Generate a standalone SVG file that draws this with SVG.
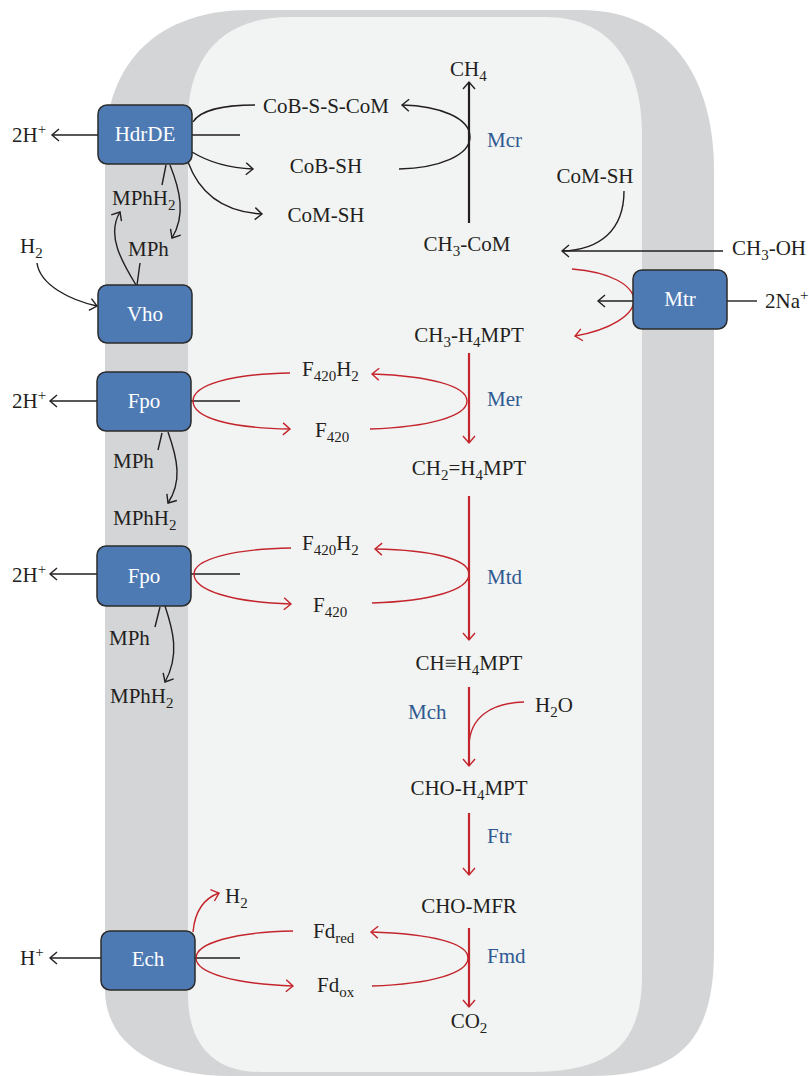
<svg xmlns="http://www.w3.org/2000/svg" width="809" height="1076" viewBox="0 0 809 1076">
<defs>
<style>
.t{font-family:"Liberation Serif",serif;font-size:21px;fill:#231f20}
.e{fill:#2f5a91}
.n{fill:#ffffff}
.s{font-size:15px}
.box{fill:#4e7ab4;stroke:#2b2b2b;stroke-width:1.5}
.k{fill:none;stroke:#231f20;stroke-width:1.4}
.kt{fill:none;stroke:#231f20;stroke-width:2.2}
.r{fill:none;stroke:#c4252c;stroke-width:1.4}
.rt{fill:none;stroke:#c4252c;stroke-width:2.2}
</style>
<marker id="ab" viewBox="-9 -7 11 14" markerWidth="11" markerHeight="14" refX="0" refY="0" orient="auto" markerUnits="userSpaceOnUse"><path d="M-7,-6 L0,0 L-7,6" fill="none" stroke="#231f20" stroke-width="1.4"/></marker>
<marker id="ar" viewBox="-9 -7 11 14" markerWidth="11" markerHeight="14" refX="0" refY="0" orient="auto" markerUnits="userSpaceOnUse"><path d="M-7,-6 L0,0 L-7,6" fill="none" stroke="#c4252c" stroke-width="1.4"/></marker>
</defs>
<rect width="809" height="1076" fill="#ffffff"/>
<g id="membrane">
<path d="M 250 10 L 580 10 C 680 10, 714 90, 714 170 L 714 950 C 714 1040, 680 1076, 590 1076 L 230 1076 C 150 1076, 105 1040, 105 990 L 105 150 C 105 60, 160 10, 250 10 Z" fill="#d4d5d7"/>
<path d="M 290 17 L 545 17 C 615 17, 642 70, 642 135 L 642 975 C 642 1045, 610 1072, 530 1072 L 260 1072 C 210 1072, 188 1040, 188 995 L 188 120 C 188 60, 220 17, 290 17 Z" fill="#f2f3f3"/>
</g>
<g id="connectors">
<path class="k" d="M 98 135 L 52 135" marker-end="url(#ab)"/>
<path class="k" d="M 255 105 C 225 105, 200 110, 193 122"/>
<path class="k" d="M 192 135 L 240 135"/>
<path class="k" d="M 192 152 C 210 163, 230 168, 253 169" marker-end="url(#ab)"/>
<path class="k" d="M 188 162 C 200 195, 225 212, 262 214" marker-end="url(#ab)"/>
<path class="k" d="M 162 185 L 166 165"/>
<path class="k" d="M 170 165 C 180 190, 186 215, 172 238" marker-end="url(#ab)"/>
<path class="k" d="M 136 285 C 122 262, 106 235, 120 212" marker-end="url(#ab)"/>
<path class="k" d="M 137 285 L 140 263"/>
<path class="k" d="M 37 263 C 40 285, 70 300, 97 306" marker-end="url(#ab)"/>
<path class="kt" d="M 469 223 L 469 82" marker-end="url(#ab)"/>
<path class="k" d="M 399 169 C 440 168, 470 155, 470 137 C 470 118, 440 106, 402 105" marker-end="url(#ab)"/>
<path class="k" d="M 624 191 C 624 230, 600 250, 562 251"/>
<path class="k" d="M 723 251 L 562 251" marker-end="url(#ab)"/>
<path class="k" d="M 633 301 L 598 301" marker-end="url(#ab)"/>
<path class="k" d="M 727 301 L 757 301"/>
<path class="k" d="M 97 401 L 50 401" marker-end="url(#ab)"/>
<path class="k" d="M 191 401 L 240 401"/>
<path class="k" d="M 158 450 L 162 433"/>
<path class="k" d="M 168 432 C 178 460, 182 482, 168 503" marker-end="url(#ab)"/>
<path class="k" d="M 97 574 L 50 574" marker-end="url(#ab)"/>
<path class="k" d="M 191 574 L 240 574"/>
<path class="k" d="M 155 627 L 160 607"/>
<path class="k" d="M 165 606 C 173 630, 180 655, 165 682" marker-end="url(#ab)"/>
<path class="k" d="M 101 958 L 50 958" marker-end="url(#ab)"/>
<path class="k" d="M 195 958 L 240 958"/>
<path class="r" d="M 572 269 C 610 272, 633 285, 634 300 C 634 315, 610 330, 575 336" marker-end="url(#ar)"/>
<path class="rt" d="M 469 353 L 469 443" marker-end="url(#ar)"/>
<path class="r" d="M 290 373 C 230 374, 193 385, 193 401 C 193 418, 230 428, 290 429" marker-end="url(#ar)"/>
<path class="r" d="M 370 429 C 430 427, 467 416, 467 401 C 467 386, 430 376, 372 374" marker-end="url(#ar)"/>
<path class="rt" d="M 469 496 L 469 640" marker-end="url(#ar)"/>
<path class="r" d="M 291 548 C 230 549, 194 560, 194 574 C 194 590, 230 602, 291 604" marker-end="url(#ar)"/>
<path class="r" d="M 372 603 C 432 601, 469 590, 469 574 C 469 559, 432 550, 375 549" marker-end="url(#ar)"/>
<path class="rt" d="M 469 687 L 469 766" marker-end="url(#ar)"/>
<path class="r" d="M 524 702 C 490 703, 470 718, 469 745"/>
<path class="rt" d="M 469 813 L 469 875" marker-end="url(#ar)"/>
<path class="rt" d="M 469 928 L 469 1007" marker-end="url(#ar)"/>
<path class="r" d="M 293 931 C 235 932, 196 943, 196 958 C 196 973, 235 984, 293 986" marker-end="url(#ar)"/>
<path class="r" d="M 372 986 C 432 984, 468 973, 468 958 C 468 943, 432 934, 371 932" marker-end="url(#ar)"/>
<path class="r" d="M 193 932 C 195 910, 205 898, 219 893" marker-end="url(#ar)"/>
</g>
<g id="HdrDE"><rect class="box" x="98" y="105" width="94" height="59" rx="9"/><text class="t n" x="145" y="141" text-anchor="middle">HdrDE</text></g>
<g id="Vho"><rect class="box" x="98" y="285" width="94" height="58" rx="9"/><text class="t n" x="145" y="321" text-anchor="middle">Vho</text></g>
<g id="Fpo1"><rect class="box" x="97" y="372" width="94" height="59" rx="9"/><text class="t n" x="144" y="408" text-anchor="middle">Fpo</text></g>
<g id="Fpo2"><rect class="box" x="97" y="546" width="94" height="60" rx="9"/><text class="t n" x="144" y="583" text-anchor="middle">Fpo</text></g>
<g id="Ech"><rect class="box" x="101" y="931" width="94" height="59" rx="9"/><text class="t n" x="148" y="966" text-anchor="middle">Ech</text></g>
<g id="Mtr"><rect class="box" x="633" y="270" width="94" height="59" rx="9"/><text class="t n" x="680" y="306" text-anchor="middle">Mtr</text></g>
<g id="labels">
<text class="t" x="12" y="142">2H<tspan class="s" dy="-8">+</tspan></text>
<text class="t" x="326" y="113" text-anchor="middle">CoB-S-S-CoM</text>
<text class="t" x="326" y="173" text-anchor="middle">CoB-SH</text>
<text class="t" x="326" y="222" text-anchor="middle">CoM-SH</text>
<text class="t" x="450" y="76">CH<tspan class="s" dy="5">4</tspan></text>
<text class="t e" x="487" y="147">Mcr</text>
<text class="t" x="467" y="251" text-anchor="middle">CH<tspan class="s" dy="5">3</tspan><tspan dy="-5">-CoM</tspan></text>
<text class="t" x="595" y="183" text-anchor="middle">CoM-SH</text>
<text class="t" x="732" y="255">CH<tspan class="s" dy="5">3</tspan><tspan dy="-5">-OH</tspan></text>
<text class="t" x="765" y="308">2Na<tspan class="s" dy="-8">+</tspan></text>
<text class="t" x="469" y="342" text-anchor="middle">CH<tspan class="s" dy="5">3</tspan><tspan dy="-5">-H</tspan><tspan class="s" dy="5">4</tspan><tspan dy="-5">MPT</tspan></text>
<text class="t" x="112" y="205">MPhH<tspan class="s" dy="5">2</tspan></text>
<text class="t" x="128" y="256">MPh</text>
<text class="t" x="20" y="253">H<tspan class="s" dy="5">2</tspan></text>
<text class="t" x="12" y="408">2H<tspan class="s" dy="-8">+</tspan></text>
<text class="t" x="302" y="376">F<tspan class="s" dy="5">420</tspan><tspan dy="-5">H</tspan><tspan class="s" dy="5">2</tspan></text>
<text class="t" x="315" y="437">F<tspan class="s" dy="5">420</tspan></text>
<text class="t e" x="487" y="406">Mer</text>
<text class="t" x="113" y="468">MPh</text>
<text class="t" x="113" y="525">MPhH<tspan class="s" dy="5">2</tspan></text>
<text class="t" x="469" y="475" text-anchor="middle">CH<tspan class="s" dy="5">2</tspan><tspan dy="-5">=H</tspan><tspan class="s" dy="5">4</tspan><tspan dy="-5">MPT</tspan></text>
<text class="t" x="12" y="582">2H<tspan class="s" dy="-8">+</tspan></text>
<text class="t" x="302" y="550">F<tspan class="s" dy="5">420</tspan><tspan dy="-5">H</tspan><tspan class="s" dy="5">2</tspan></text>
<text class="t" x="313" y="612">F<tspan class="s" dy="5">420</tspan></text>
<text class="t e" x="487" y="584">Mtd</text>
<text class="t" x="109" y="645">MPh</text>
<text class="t" x="110" y="703">MPhH<tspan class="s" dy="5">2</tspan></text>
<text class="t" x="469" y="670" text-anchor="middle">CH≡H<tspan class="s" dy="5">4</tspan><tspan dy="-5">MPT</tspan></text>
<text class="t e" x="408" y="719">Mch</text>
<text class="t" x="535" y="712">H<tspan class="s" dy="5">2</tspan><tspan dy="-5">O</tspan></text>
<text class="t" x="469" y="795" text-anchor="middle">CHO-H<tspan class="s" dy="5">4</tspan><tspan dy="-5">MPT</tspan></text>
<text class="t e" x="487" y="843">Ftr</text>
<text class="t" x="469" y="913" text-anchor="middle">CHO-MFR</text>
<text class="t" x="225" y="903">H<tspan class="s" dy="5">2</tspan></text>
<text class="t" x="20" y="965">H<tspan class="s" dy="-8">+</tspan></text>
<text class="t" x="313" y="938">Fd<tspan class="s" dy="5">red</tspan></text>
<text class="t e" x="487" y="963">Fmd</text>
<text class="t" x="317" y="992">Fd<tspan class="s" dy="5">ox</tspan></text>
<text class="t" x="469" y="1028" text-anchor="middle">CO<tspan class="s" dy="5">2</tspan></text>
</g>
</svg>
